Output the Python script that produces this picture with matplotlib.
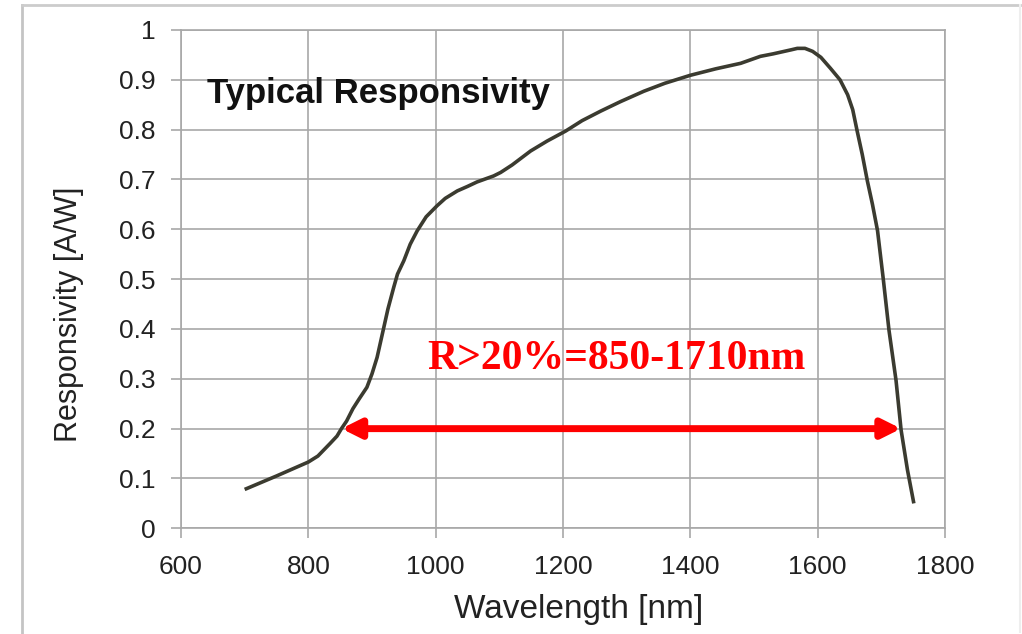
import matplotlib
matplotlib.use('Agg')
import matplotlib.pyplot as plt
from matplotlib.lines import Line2D

# Responsivity curve
wavelength = [700, 750, 800, 815, 834, 845, 852, 860, 870, 880, 892, 900, 908,
              918, 925, 934, 940, 950, 960, 971, 985, 1002, 1015, 1034, 1050,
              1065, 1091, 1102, 1120, 1149, 1175, 1204, 1230, 1259, 1290, 1327,
              1360, 1400, 1440, 1479, 1510, 1530, 1558, 1568, 1580, 1592, 1605,
              1620, 1635, 1647, 1655, 1662, 1670, 1678, 1686, 1694, 1703, 1712,
              1723, 1731, 1741, 1751]
responsivity = [0.078, 0.105, 0.133, 0.145, 0.17, 0.185, 0.20, 0.215, 0.24, 0.26,
                0.283, 0.31, 0.343, 0.40, 0.44, 0.483, 0.51, 0.537, 0.57, 0.597,
                0.625, 0.647, 0.662, 0.677, 0.686, 0.695, 0.707, 0.714, 0.729,
                0.757, 0.777, 0.797, 0.818, 0.837, 0.856, 0.877, 0.893, 0.909,
                0.922, 0.933, 0.947, 0.952, 0.96, 0.963, 0.963, 0.957, 0.945,
                0.923, 0.9, 0.87, 0.84, 0.797, 0.75, 0.697, 0.65, 0.597, 0.5,
                0.397, 0.297, 0.197, 0.117, 0.05]

x_ticks = [600, 800, 1000, 1200, 1400, 1600, 1800]
y_ticks = [0, 0.1, 0.2, 0.3, 0.4, 0.5, 0.6, 0.7, 0.8, 0.9, 1]
y_tick_labels = ['0', '0.1', '0.2', '0.3', '0.4', '0.5', '0.6', '0.7', '0.8', '0.9', '1']

band_start, band_end, band_level = 852, 1731, 0.2
band_label = 'R>20%=850-1710nm'

plt.rcParams['font.family'] = ['Liberation Sans', 'DejaVu Sans']

fig = plt.figure(figsize=(10.22, 6.34), dpi=100)
ax = fig.add_axes([0.1771, 0.1667, 0.7476, 0.7861])

grid_col = '#a8a8a8'
ax.plot(wavelength, responsivity, color='#3b3b30', lw=2.6,
        solid_joinstyle='round', solid_capstyle='butt')

ax.set_xlim(600, 1800)
ax.set_ylim(0, 1)
ax.set_xticks(x_ticks)
ax.set_yticks(y_ticks)
ax.set_yticklabels(y_tick_labels)
ax.grid(True, color=grid_col, lw=1.2)
ax.set_axisbelow(True)
for s in ax.spines.values():
    s.set_color(grid_col)
    s.set_linewidth(1.2)
ax.tick_params(axis='both', colors=grid_col, labelcolor='#222222', labelsize=19,
               length=7, width=1.2)
ax.tick_params(axis='y', pad=11)
ax.tick_params(axis='x', pad=12)

ax.set_xlabel('Wavelength [nm]', fontsize=24, color='#222222')
ax.xaxis.set_label_coords(0.521, -0.162)
ax.xaxis.label.set_va('center')
ax.set_ylabel('Responsivity [A/W]', fontsize=22, color='#222222')
ax.yaxis.set_label_coords(-0.147, 0.43)
ax.yaxis.label.set_va('center')

ax.text(641, 0.853, 'Typical Responsivity', fontsize=25, fontweight='bold',
        color='#111111', va='baseline', ha='left')

ax.annotate('', xy=(band_start, band_level), xytext=(band_end, band_level),
            arrowprops=dict(arrowstyle='<|-|>', color='#ff0000', lw=5,
                            mutation_scale=28, shrinkA=0, shrinkB=0))
ax.text(1284, 0.34, band_label, fontsize=30, fontweight='bold', color='#ff0000',
        family=['Liberation Serif', 'DejaVu Serif'], ha='center', va='center')

# light frame around the figure
fig.add_artist(Line2D([22 / 1022, 22 / 1022], [0, 629 / 634], color='#c4c4c4', lw=2,
                      transform=fig.transFigure))
fig.add_artist(Line2D([22 / 1022, 1020 / 1022], [629 / 634, 629 / 634], color='#cccccc',
                      lw=2, transform=fig.transFigure))
fig.add_artist(Line2D([1020 / 1022, 1020 / 1022], [2 / 634, 629 / 634], color='#eeeeee',
                      lw=1.5, transform=fig.transFigure))

fig.savefig('out.png', dpi=100)
